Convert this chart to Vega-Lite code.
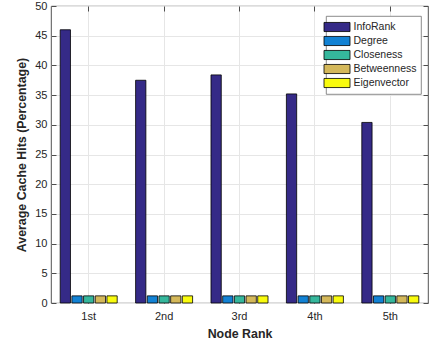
{
  "$schema": "https://vega.github.io/schema/vega-lite/v6.json",
  "width": 377,
  "height": 297,
  "autosize": {"type": "none"},
  "padding": {"left": 51, "top": 6, "right": 4, "bottom": 40},
  "background": "white",
  "config": {
    "font": "Liberation Sans",
    "view": {"stroke": "#262626", "strokeWidth": 0.8},
    "legend": {"strokeWidth": 0.8},
    "axis": {
      "labelColor": "#262626",
      "labelFontSize": 11,
      "titleColor": "#262626",
      "titleFontSize": 12.4,
      "titleFontWeight": "bold",
      "domainColor": "#262626",
      "domainWidth": 0.8,
      "tickColor": "#262626",
      "tickWidth": 0.8,
      "gridColor": "#e6e6e6",
      "gridWidth": 1,
      "gridOpacity": 1
    }
  },
  "data": {
    "values": [
      {"rank": "1st", "method": "InfoRank", "value": 46.0},
      {"rank": "1st", "method": "Degree", "value": 1.2},
      {"rank": "1st", "method": "Closeness", "value": 1.2},
      {"rank": "1st", "method": "Betweenness", "value": 1.2},
      {"rank": "1st", "method": "Eigenvector", "value": 1.2},
      {"rank": "2nd", "method": "InfoRank", "value": 37.5},
      {"rank": "2nd", "method": "Degree", "value": 1.2},
      {"rank": "2nd", "method": "Closeness", "value": 1.2},
      {"rank": "2nd", "method": "Betweenness", "value": 1.2},
      {"rank": "2nd", "method": "Eigenvector", "value": 1.2},
      {"rank": "3rd", "method": "InfoRank", "value": 38.4},
      {"rank": "3rd", "method": "Degree", "value": 1.2},
      {"rank": "3rd", "method": "Closeness", "value": 1.2},
      {"rank": "3rd", "method": "Betweenness", "value": 1.2},
      {"rank": "3rd", "method": "Eigenvector", "value": 1.2},
      {"rank": "4th", "method": "InfoRank", "value": 35.2},
      {"rank": "4th", "method": "Degree", "value": 1.2},
      {"rank": "4th", "method": "Closeness", "value": 1.2},
      {"rank": "4th", "method": "Betweenness", "value": 1.2},
      {"rank": "4th", "method": "Eigenvector", "value": 1.2},
      {"rank": "5th", "method": "InfoRank", "value": 30.4},
      {"rank": "5th", "method": "Degree", "value": 1.2},
      {"rank": "5th", "method": "Closeness", "value": 1.2},
      {"rank": "5th", "method": "Betweenness", "value": 1.2},
      {"rank": "5th", "method": "Eigenvector", "value": 1.2}
    ]
  },
  "resolve": {"axis": {"x": "independent", "y": "independent"}},
  "layer": [
    {
      "mark": {"type": "bar", "stroke": "black", "strokeWidth": 0.8},
      "encoding": {
        "x": {
          "field": "rank", "type": "nominal", "sort": null,
          "scale": {"paddingInner": 0.244, "paddingOuter": 0.122},
          "axis": {
            "title": "Node Rank", "labelAngle": 0, "orient": "bottom",
            "grid": true, "bandPosition": 0.5, "tickSize": -5,
            "labelPadding": 12, "titlePadding": 6, "domain": false
          }
        },
        "xOffset": {
          "field": "method", "type": "nominal", "sort": null,
          "scale": {"paddingInner": 0.12, "paddingOuter": 0}
        },
        "y": {
          "field": "value", "type": "quantitative",
          "scale": {"domain": [0, 50], "nice": false},
          "axis": {
            "title": "Average Cache Hits (Percentage)", "orient": "left",
            "values": [0, 5, 10, 15, 20, 25, 30, 35, 40, 45, 50],
            "grid": true, "tickSize": -5, "labelPadding": 9,
            "titlePadding": 6, "domain": false
          }
        },
        "color": {
          "field": "method", "type": "nominal", "sort": null,
          "scale": {
            "domain": ["InfoRank", "Degree", "Closeness", "Betweenness", "Eigenvector"],
            "range": ["#352a87", "#1282d4", "#35b79c", "#d4b85a", "#f9fb0e"]
          },
          "legend": {
            "title": null,
            "orient": "none",
            "legendX": 275,
            "legendY": 10,
            "padding": 4,
            "fillColor": "white",
            "strokeColor": "#6e6e6e",
            "symbolType": "M-2,-0.7H2V0.7H-2Z",
            "symbolSize": 169,
            "symbolStrokeColor": "black",
            "symbolStrokeWidth": 0.8,
            "symbolOpacity": 1,
            "labelFontSize": 10.5,
            "labelColor": "#262626",
            "labelOffset": 9.5,
            "rowPadding": -0.2
          }
        }
      }
    },
    {
      "mark": {"type": "bar", "opacity": 0},
      "encoding": {
        "x": {
          "field": "rank", "type": "nominal", "sort": null,
          "axis": {
            "orient": "top", "title": null, "labels": false, "grid": false,
            "bandPosition": 0.5, "tickSize": -5, "domain": false
          }
        },
        "y": {
          "field": "value", "type": "quantitative",
          "axis": {
            "orient": "right", "title": null, "labels": false, "grid": false,
            "values": [0, 5, 10, 15, 20, 25, 30, 35, 40, 45, 50],
            "tickSize": -5, "domain": false
          }
        }
      }
    }
  ]
}
